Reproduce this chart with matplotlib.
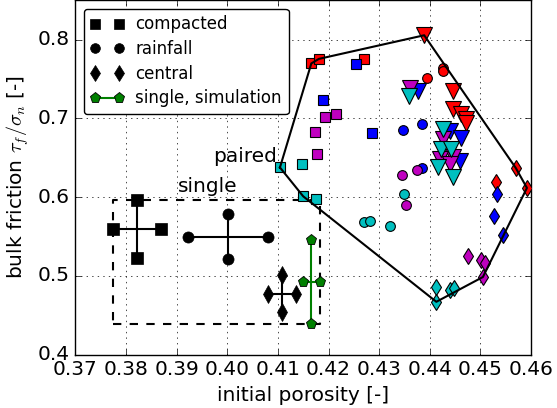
import numpy as np
import matplotlib
matplotlib.use('Agg')
import matplotlib.pyplot as plt
from matplotlib.lines import Line2D

plt.style.use('classic')
plt.rcParams['figure.facecolor'] = 'white'
plt.rcParams['savefig.facecolor'] = 'white'

# paired experiments: (porosity, friction) per color group
sq_r = [(0.4166, 0.7699), (0.4181, 0.7757), (0.4270, 0.7757)]
sq_b = [(0.4254, 0.7690), (0.4190, 0.7234), (0.4285, 0.6813)]
sq_m = [(0.4193, 0.7019), (0.4215, 0.7053), (0.4173, 0.6829), (0.4178, 0.6554)]
sq_c = [(0.4148, 0.6415), (0.4104, 0.6377), (0.4150, 0.6010), (0.4176, 0.5977)]

ci_r = [(0.4426, 0.7643), (0.4426, 0.7601), (0.4395, 0.7513)]
ci_b = [(0.4385, 0.6927), (0.4348, 0.6851), (0.4385, 0.6373)]
ci_m = [(0.4374, 0.6344), (0.4345, 0.6281), (0.4354, 0.5905)]
ci_c = [(0.4350, 0.6036), (0.4270, 0.5690), (0.4281, 0.5694), (0.4322, 0.5639)]

tr_r = [(0.4389, 0.8057), (0.4446, 0.7348), (0.4446, 0.7116), (0.4462, 0.7053),
        (0.4472, 0.6990), (0.4471, 0.6943)]
tr_b = [(0.4376, 0.7348), (0.4439, 0.6842), (0.4462, 0.6757), (0.4459, 0.6462)]
tr_m = [(0.4360, 0.7390), (0.4426, 0.6737), (0.4446, 0.6504), (0.4420, 0.6484),
        (0.4439, 0.6420)]
tr_c = [(0.4358, 0.7285), (0.4426, 0.6863), (0.4423, 0.6610), (0.4441, 0.6610),
        (0.4416, 0.6377), (0.4446, 0.6251)]

di_r = [(0.4570, 0.6370), (0.4592, 0.6117), (0.4530, 0.6196)]
di_b = [(0.4532, 0.6036), (0.4527, 0.5757), (0.4545, 0.5517)]
di_m = [(0.4476, 0.5251), (0.4502, 0.5196), (0.4510, 0.5167), (0.4505, 0.4985)]
di_c = [(0.4413, 0.4858), (0.4439, 0.4825), (0.4448, 0.4846), (0.4413, 0.4670)]

# single experiments: center and half-ranges
single_center = [(0.3822, 0.5597), (0.4002, 0.5498), (0.4108, 0.4775)]
single_err = [(0.0047, 0.0365), (0.0079, 0.0289), (0.0027, 0.0240)]
sim_center = (0.4166, 0.4920)
sim_err = (0.0017, 0.0538)


def convex_hull(pts):
    pts = sorted(set(pts))
    def cross(o, a, b):
        return (a[0] - o[0]) * (b[1] - o[1]) - (a[1] - o[1]) * (b[0] - o[0])
    lower = []
    for p in pts:
        while len(lower) >= 2 and cross(lower[-2], lower[-1], p) <= 0:
            lower.pop()
        lower.append(p)
    upper = []
    for p in reversed(pts):
        while len(upper) >= 2 and cross(upper[-2], upper[-1], p) <= 0:
            upper.pop()
        upper.append(p)
    return lower[:-1] + upper[:-1]


fig = plt.figure(figsize=(5.57, 4.08), dpi=100)
ax = fig.add_axes([0.1355, 0.1311, 0.8178, 0.8679])

groups = [('s', 7, [sq_r, sq_b, sq_m, sq_c]),
          ('o', 7, [ci_r, ci_b, ci_m, ci_c]),
          ('d', 8, [di_r, di_b, di_m, di_c]),
          ('v', 12, [tr_r, tr_b, tr_m, tr_c])]
colors = ['r', 'b', 'm', 'c']
all_pts = []
for marker, ms, sets in groups:
    for col, pts in zip(colors, sets):
        arr = np.array(pts)
        ax.plot(arr[:, 0], arr[:, 1], linestyle='none', marker=marker, ms=ms,
                mfc=col, mec='k', mew=0.8, zorder=3)
        all_pts += pts

hull = np.array(convex_hull(all_pts))
hull = np.vstack([hull, hull[:1]])
ax.plot(hull[:, 0], hull[:, 1], 'k-', lw=1.5, zorder=4)

# single experiment crosses
for (x, y), (dx, dy), m, ms in zip(single_center, single_err, ['s', 'o', 'd'], [8, 8, 9]):
    ax.plot([x - dx, x + dx], [y, y], 'k-', marker=m, ms=ms, mfc='k', mec='k', lw=1.5, zorder=3)
    ax.plot([x, x], [y - dy, y + dy], 'k-', marker=m, ms=ms, mfc='k', mec='k', lw=1.5, zorder=3)
x, y = sim_center
dx, dy = sim_err
ax.plot([x - dx, x + dx], [y, y], '-', color='g', marker='p', ms=8, mfc='g', mec='k',
        mew=0.6, lw=1.5, zorder=3)
ax.plot([x, x], [y - dy, y + dy], '-', color='g', marker='p', ms=8, mfc='g', mec='k',
        mew=0.6, lw=1.5, zorder=3)

# dashed box around all single results
xs = [c[0] - e[0] for c, e in zip(single_center + [sim_center], single_err + [sim_err])]
xe = [c[0] + e[0] for c, e in zip(single_center + [sim_center], single_err + [sim_err])]
ys = [c[1] - e[1] for c, e in zip(single_center + [sim_center], single_err + [sim_err])]
ye = [c[1] + e[1] for c, e in zip(single_center + [sim_center], single_err + [sim_err])]
x0, x1, y0, y1 = min(xs), max(xe), min(ys), max(ye)
ax.plot([x0, x1, x1, x0, x0], [y0, y0, y1, y1, y0], 'k--', lw=1.5, zorder=2)

ax.text(0.4098, 0.6400, 'paired', fontsize=14.5, ha='right', va='bottom')
ax.text(0.3903, 0.6010, 'single', fontsize=14.5, ha='left', va='bottom')

handles = [Line2D([], [], ls='none', marker='s', ms=7, mfc='k', mec='k'),
           Line2D([], [], ls='none', marker='o', ms=7, mfc='k', mec='k'),
           Line2D([], [], ls='none', marker='d', ms=8, mfc='k', mec='k'),
           Line2D([], [], ls='-', color='g', lw=1.5, marker='p', ms=8, mfc='g', mec='k', mew=0.6)]
labels = ['compacted', 'rainfall', 'central', 'single, simulation']
ax.legend(handles, labels, loc='upper left', numpoints=2, fancybox=True, fontsize=12,
          handlelength=2.0, handletextpad=0.7, labelspacing=0.4, borderaxespad=0.5)

ax.set_xlim(0.37, 0.46)
ax.set_ylim(0.4, 0.85)
ax.set_xticks(np.arange(0.37, 0.4601, 0.01))
ax.set_xticklabels(['%.2f' % v for v in np.arange(0.37, 0.4601, 0.01)])
ax.set_yticks([0.4, 0.5, 0.6, 0.7, 0.8])
ax.set_yticklabels(['0.4', '0.5', '0.6', '0.7', '0.8'])
ax.tick_params(labelsize=14.5)
ax.grid(True)
ax.set_xlabel('initial porosity [-]', fontsize=14.5)
ax.set_ylabel(r'bulk friction $\tau_f/\sigma_n$ [-]', fontsize=14.5)

fig.savefig('out.png', dpi=100)
